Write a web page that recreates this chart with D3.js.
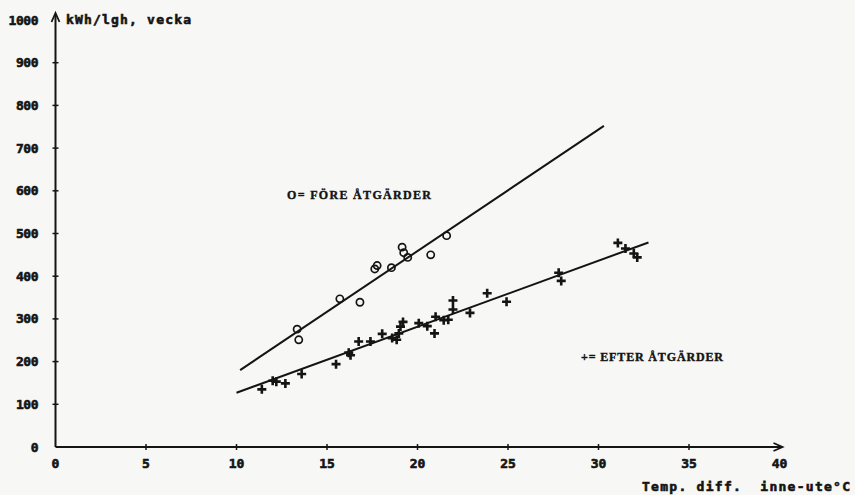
<!DOCTYPE html>
<html>
<head>
<meta charset="utf-8">
<script src="https://cdn.jsdelivr.net/npm/d3@7"></script>
<style>
  body { margin: 0; background: #f7f7f5; }
  svg { display: block; }
  .tick-label { font-family: "DejaVu Sans Mono", monospace; font-weight: bold; font-size: 13px; fill: #141414; stroke: #141414; stroke-width: 0.6px; }
  .legend { font-family: "Liberation Serif", "DejaVu Serif", serif; font-weight: bold; font-size: 12px; fill: #141414; stroke: #141414; stroke-width: 0.4px; }
</style>
</head>
<body>
<svg id="chart"></svg>
<script>
// before (circles)
const foreX = [13.35, 13.44, 15.71, 16.82, 17.64, 17.77, 18.56, 19.15, 19.24, 19.46, 20.73, 21.61];
const foreY = [276, 251, 347, 339, 417, 425, 420, 468, 455, 444, 450, 495];

// after (crosses)
const efterX = [11.4, 12.0, 12.2, 12.7, 13.6, 15.5, 16.2, 16.3, 16.75, 17.4, 18.05, 18.6, 18.85, 18.97,
  19.06, 19.2, 20.07, 20.54, 20.94, 21.0, 21.45, 21.7, 21.96, 21.96, 22.9, 23.85, 24.92,
  27.8, 27.94, 31.07, 31.49, 31.95, 32.14];
const efterY = [135, 155, 153, 149, 171, 194, 221, 215, 247, 247, 265, 255, 251, 266,
  282, 293, 290, 283, 266, 305, 297, 298, 343, 322, 314, 360, 340,
  408, 389, 478, 465, 453, 444];

// fitted lines, end points
const foreLine = [[10.2, 180], [30.3, 752]];
const efterLine = [[10.0, 127], [32.76, 479]];

const xTicks = [0, 5, 10, 15, 20, 25, 30, 35, 40];
const yTicks = [0, 100, 200, 300, 400, 500, 600, 700, 800, 900, 1000];

const width = 855, height = 495;
const ink = "#141414";

const svg = d3.select("#chart")
    .attr("width", width)
    .attr("height", height);

const x = d3.scaleLinear().domain([0, 40]).range([55.5, 779.5]);
const y = d3.scaleLinear().domain([0, 1000]).range([447, 20]);

// axes
svg.append("line")
    .attr("x1", x(0)).attr("y1", y(0))
    .attr("x2", x(40) + 2).attr("y2", y(0))
    .attr("stroke", ink).attr("stroke-width", 2);
svg.append("line")
    .attr("x1", x(0)).attr("y1", y(0))
    .attr("x2", x(0)).attr("y2", y(1000) - 6)
    .attr("stroke", ink).attr("stroke-width", 2);

// arrow heads
svg.append("path")
    .attr("d", `M${x(40) - 6},${y(0) - 4} L${x(40) + 3},${y(0)} L${x(40) - 6},${y(0) + 4}`)
    .attr("fill", "none").attr("stroke", ink).attr("stroke-width", 1.8);
svg.append("path")
    .attr("d", `M${x(0) - 4},${y(1000) + 2} L${x(0)},${y(1000) - 7} L${x(0) + 4},${y(1000) + 2}`)
    .attr("fill", "none").attr("stroke", ink).attr("stroke-width", 1.8);

// tick marks
svg.selectAll(".xt")
    .data(xTicks.filter(d => d > 0 && d < 40))
    .join("line")
    .attr("x1", d => x(d)).attr("x2", d => x(d))
    .attr("y1", y(0) - 3).attr("y2", y(0) + 3)
    .attr("stroke", ink).attr("stroke-width", 1.5);
svg.selectAll(".yt")
    .data(yTicks.filter(d => d > 0 && d < 1000))
    .join("line")
    .attr("x1", x(0) - 3).attr("x2", x(0) + 3)
    .attr("y1", d => y(d)).attr("y2", d => y(d))
    .attr("stroke", ink).attr("stroke-width", 1.5);

// tick labels
svg.selectAll(".xl")
    .data(xTicks)
    .join("text")
    .attr("class", "tick-label")
    .attr("x", d => x(d))
    .attr("y", y(0) + 16)
    .attr("text-anchor", "middle")
    .attr("dominant-baseline", "central")
    .text(d => d);
svg.selectAll(".yl")
    .data(yTicks)
    .join("text")
    .attr("class", "tick-label")
    .attr("x", x(0) - 17)
    .attr("y", d => y(d))
    .attr("text-anchor", "end")
    .attr("dominant-baseline", "central")
    .attr("textLength", d => String(d).length * 7.5)
    .text(d => d);

// axis titles
svg.append("text")
    .attr("class", "tick-label")
    .attr("x", 66).attr("y", y(1000) - 1)
    .attr("dominant-baseline", "central")
    .attr("textLength", 125)
    .text("kWh/lgh, vecka");
svg.append("text")
    .attr("class", "tick-label")
    .attr("x", 642).attr("y", 486)
    .attr("dominant-baseline", "central")
    .attr("textLength", 208)
    .attr("xml:space", "preserve")
    .text("Temp. diff.  inne-ute°C");

// regression lines
const line = d3.line().x(d => x(d[0])).y(d => y(d[1]));
svg.append("path")
    .attr("d", line(foreLine))
    .attr("fill", "none").attr("stroke", ink).attr("stroke-width", 2);
svg.append("path")
    .attr("d", line(efterLine))
    .attr("fill", "none").attr("stroke", ink).attr("stroke-width", 2);

// circles
svg.selectAll(".fore")
    .data(d3.range(foreX.length))
    .join("circle")
    .attr("cx", i => x(foreX[i]))
    .attr("cy", i => y(foreY[i]))
    .attr("r", 3.6)
    .attr("fill", "none")
    .attr("stroke", ink)
    .attr("stroke-width", 1.7);

// crosses
svg.selectAll(".efter")
    .data(d3.range(efterX.length))
    .join("path")
    .attr("d", i => {
      const cx = x(efterX[i]), cy = y(efterY[i]);
      return `M${cx - 4.5},${cy} H${cx + 4.5} M${cx},${cy - 4.5} V${cy + 4.5}`;
    })
    .attr("stroke", ink)
    .attr("stroke-width", 2.6);

// legends
svg.append("text")
    .attr("class", "legend")
    .attr("x", 287).attr("y", 195)
    .attr("dominant-baseline", "central")
    .attr("textLength", 144)
    .text("O= FÖRE ÅTGÄRDER");
svg.append("text")
    .attr("class", "legend")
    .attr("x", 581).attr("y", 357)
    .attr("dominant-baseline", "central")
    .attr("textLength", 142)
    .text("+= EFTER ÅTGÄRDER");
</script>
</body>
</html>
